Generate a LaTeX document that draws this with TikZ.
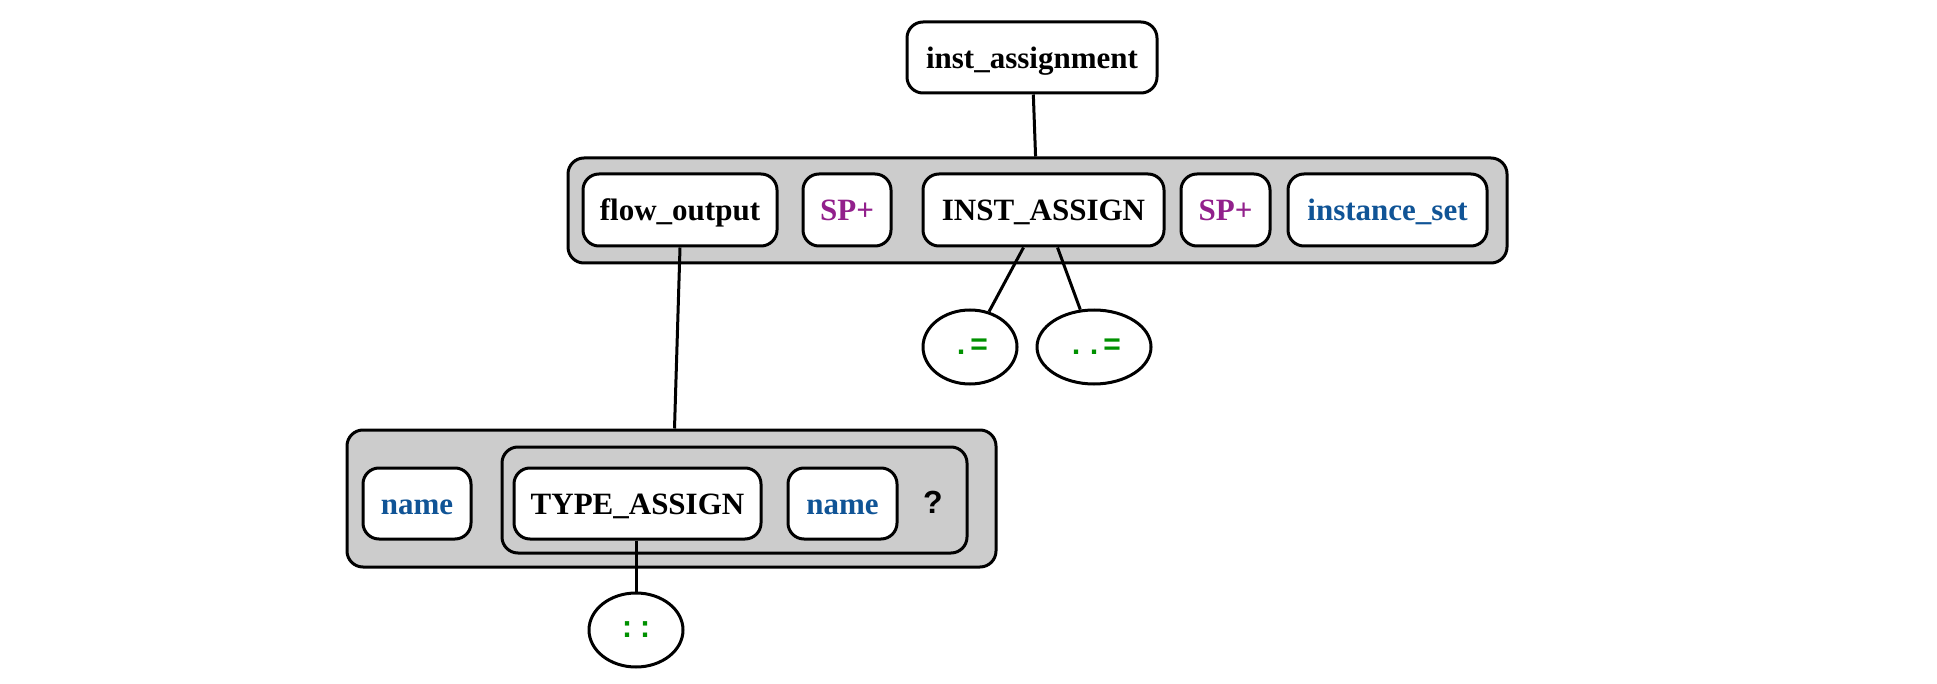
\documentclass[tikz,border=0pt]{standalone}
\usepackage{fontspec}
\setmainfont{Liberation Serif}
\newfontfamily\monofont{Liberation Mono}
\newfontfamily\sansfont{Liberation Sans}
\usetikzlibrary{shapes.geometric}
\definecolor{gfill}{RGB}{204,204,204}
\definecolor{ntblue}{RGB}{16,84,150}
\definecolor{sppurple}{RGB}{146,32,140}
\definecolor{litgreen}{RGB}{0,145,0}
\tikzset{
  base/.style={draw=black, line width=1.5pt},
  group/.style={base, fill=gfill, rounded corners=8pt, inner sep=0pt},
  rule/.style={base, fill=white, rounded corners=8pt, inner sep=0pt, minimum height=35.5pt,
    text height=12pt, text depth=1.4pt,
    font=\fontsize{15.5}{18}\selectfont\bfseries},
  lit/.style={base, fill=white, ellipse, inner sep=0pt, minimum height=37pt,
    font=\fontsize{15}{16}\monofont\bfseries, text=litgreen},
  edge/.style={line width=1.5pt},
}
\begin{document}
\begin{tikzpicture}[x=0.5pt, y=-0.5pt]
\useasboundingbox (0,0) rectangle (1937,684);
% groups
\node[group, minimum width=469.5pt, minimum height=52.5pt] (outer1) at (1037.5,210.5) {};
\node[group, minimum width=324.5pt, minimum height=68.5pt] (outer2) at (671.5,498.5) {};
\node[group, minimum width=232.5pt, minimum height=53pt] (inner) at (734.5,500) {};
% rules
\node[rule, minimum width=125pt] (ia) at (1032,57.5) {inst\_assignment};
\node[rule, minimum width=97pt, minimum height=36pt] (fo) at (680,210) {flow\_output};
\node[rule, minimum width=44pt, minimum height=36pt, text=sppurple] (sp1) at (847,210) {SP+};
\node[rule, minimum width=120.5pt, minimum height=36pt] (IA) at (1043.5,210) {INST\_ASSIGN};
\node[rule, minimum width=44.5pt, minimum height=36pt, text=sppurple] (sp2) at (1225.5,210) {SP+};
\node[rule, minimum width=99.5pt, minimum height=36pt, text=ntblue] (is) at (1387.5,210) {instance\_set};
\node[rule, minimum width=54pt, text=ntblue] (name1) at (417,503.5) {name};
\node[rule, minimum width=123.5pt] (TA) at (637.5,503.5) {TYPE\_ASSIGN};
\node[rule, minimum width=54.5pt, text=ntblue] (name2) at (842.5,503.5) {name};
\node[font=\fontsize{16}{18}\sansfont\bfseries] (q) at (933,502) {?};
% literals
\node[lit, minimum width=47pt] (e1) at (970,347) {.=};
\node[lit, minimum width=57pt] (e2) at (1094,347) {..=};
\node[lit, minimum width=47pt] (e3) at (636,630) {::};
% edges
\draw[edge] (ia) -- (outer1);
\draw[edge] ([xshift=-10pt]IA.south) -- (e1);
\draw[edge] ([xshift=7pt]IA.south) -- (e2);
\draw[edge] (fo.south) -- ([xshift=1.5pt]outer2.north);
\draw[edge] ([xshift=-0.75pt]TA.south) -- (e3);
\end{tikzpicture}
\end{document}
